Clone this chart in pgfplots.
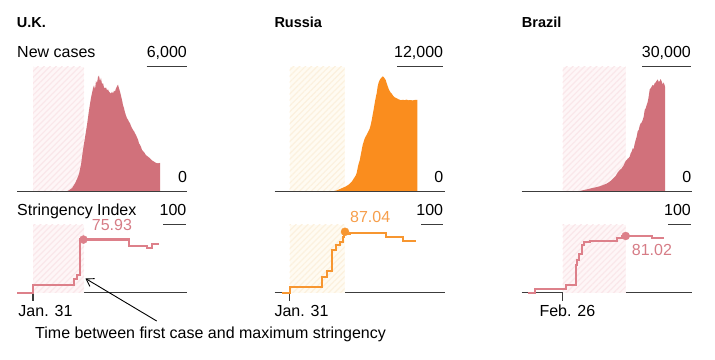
\documentclass[border=0pt]{standalone}
\usepackage{fontspec}
\setmainfont{Liberation Sans}
\usepackage{pgfplots}
\pgfplotsset{compat=1.18}
\usetikzlibrary{patterns.meta, arrows.meta}

\definecolor{ukfill}{RGB}{209,113,123}
\definecolor{ukline}{RGB}{221,128,138}
\definecolor{uklabel}{RGB}{214,124,134}
\definecolor{rufill}{RGB}{250,141,30}
\definecolor{ruline}{RGB}{247,150,48}
\definecolor{rulabel}{RGB}{246,158,75}
\definecolor{ukbg}{RGB}{254,246,247}
\definecolor{ukstripe}{RGB}{250,231,234}
\definecolor{rubg}{RGB}{255,251,242}
\definecolor{rustripe}{RGB}{252,241,222}
\definecolor{axisgray}{RGB}{60,60,60}

\newcommand\fs{\fontsize{16bp}{19bp}\selectfont}
\newcommand\fb{\fontsize{14.5bp}{17bp}\selectfont\bfseries}

\pgfplotsset{
  top/.style={width=170bp, height=125.2bp, scale only axis, xmin=16, xmax=186,
    ymin=0, axis x line*=bottom, axis y line=none, xtick=\empty, ytick=\empty,
    x axis line style={draw=axisgray, line width=1.3bp}, axis on top, clip=false},
  bot/.style={width=170bp, height=70bp, scale only axis, xmin=16, xmax=186,
    ymin=0, ymax=100, axis x line*=bottom, axis y line=none, ytick=\empty,
    xticklabels={}, major tick length=8bp, tick align=outside,
    x axis line style={draw=axisgray, line width=1.3bp},
    every tick/.style={draw=axisgray, line width=1.2bp}, clip=false},
}

\begin{document}
\begin{tikzpicture}
\useasboundingbox (0,0) rectangle (715bp,-360bp);

% ---------------- U.K. ----------------
\begin{axis}[top, ymax=6000, xmin=15, xmax=185, at={(17bp,-191.7bp)}, anchor=south west]
\addplot[draw=none, fill=ukbg] coordinates {(31,6000)(82,6000)} \closedcycle;
\addplot[draw=none, pattern={Lines[angle=45,distance=4.2bp,line width=1.2bp]}, pattern color=ukstripe] coordinates {(31,6000)(82,6000)} \closedcycle;
\addplot[draw=none, fill=ukfill] coordinates {
(62,0)(66,40)(70,170)(73,400)(75,600)(77,850)(79,1300)(81,2000)(83,2600)(85,3200)
(87,3900)(89,4500)(91,4950)(92,5100)(93,4900)(94,5300)(95,5200)(96,5500)(97,5560)
(98,5300)(99,5450)(100,5150)(101,5200)(102,5000)(103,4950)(104,5000)(105,4850)
(106,4900)(107,4800)(108,4750)(109,4700)(110,4800)(111,4700)(112,4850)(113,4800)
(114,4950)(115,5050)(116,5130)(117,4950)(118,4800)(119,4600)(120,4400)(121,4150)
(122,4000)(123,3800)(124,3650)(125,3520)(126,3450)(127,3350)(128,3280)(129,3150)
(130,3050)(131,2960)(132,2900)(133,2800)(134,2720)(135,2600)(136,2500)(137,2320)
(138,2250)(139,2150)(140,2000)(142,1900)(144,1750)(146,1680)(148,1600)(150,1500)
(152,1440)(154,1380)(156,1360)(158,1380)} \closedcycle;
\end{axis}

\begin{axis}[bot, xmin=15, xmax=185, xtick={31}, at={(17bp,-292.7bp)}, anchor=south west]
\addplot[draw=none, fill=ukbg] coordinates {(31,97)(82,97)} \closedcycle;
\addplot[draw=none, pattern={Lines[angle=45,distance=4.2bp,line width=1.2bp]}, pattern color=ukstripe] coordinates {(31,97)(82,97)} \closedcycle;
\addplot[const plot, ukline, line width=2.2bp] coordinates {
(15,0)(31,11.4)(72,19.1)(75,24.9)(78,75.93)(127,66.7)(145,64.3)(150,70)(157,70)};
\addplot[only marks, mark=*, mark size=4bp, ukline] coordinates {(81.5,75.93)};
\end{axis}

% ---------------- Russia ----------------
\begin{axis}[top, ymax=12000, at={(274.7bp,-191.7bp)}, anchor=south west]
\addplot[draw=none, fill=rubg] coordinates {(31,12000)(86,12000)} \closedcycle;
\addplot[draw=none, pattern={Lines[angle=45,distance=4.2bp,line width=1.2bp]}, pattern color=rustripe] coordinates {(31,12000)(86,12000)} \closedcycle;
\addplot[draw=none, fill=rufill] coordinates {
(72,0)(78,120)(83,330)(87,500)(90,680)(93,950)(95,1250)(97,1550)(98,1800)(99,2300)
(100,2700)(101,3000)(102,3500)(103,4000)(104,4500)(105,4800)(106,5100)(107,5300)
(108,5450)(109,5650)(110,5850)(111,6050)(112,6400)(113,6850)(114,7400)(115,7900)
(116,8500)(117,9000)(118,9450)(119,10100)(120,10500)(121,10700)(122,10850)
(123,10950)(124,11050)(125,11000)(126,10850)(127,10700)(128,10400)(129,10100)
(130,9850)(131,9650)(132,9500)(133,9400)(134,9250)(135,9150)(136,9050)(138,8950)
(140,8850)(142,8780)(144,8800)(146,8780)(148,8820)(150,8760)(152,8780)(154,8750)
(156,8790)(158.6,8790)} \closedcycle;
\end{axis}

\begin{axis}[bot, xtick={31}, at={(274.7bp,-292.7bp)}, anchor=south west]
\addplot[draw=none, fill=rubg] coordinates {(31,97)(86,97)} \closedcycle;
\addplot[draw=none, pattern={Lines[angle=45,distance=4.2bp,line width=1.2bp]}, pattern color=rustripe] coordinates {(31,97)(86,97)} \closedcycle;
\addplot[const plot, ruline, line width=2.2bp] coordinates {
(23,0)(31,8.6)(63,22.9)(68,31)(73,61)(77,68.1)(81.3,72)(84,80)(85.5,87.04)(88,83.4)
(91,85.7)(127,79.1)(144.6,74.3)(157.3,74.3)};
\addplot[only marks, mark=*, mark size=4bp, ruline] coordinates {(86.3,87.04)};
\end{axis}

% ---------------- Brazil ----------------
\begin{axis}[top, ymax=30000, at={(521.7bp,-191.7bp)}, anchor=south west]
\addplot[draw=none, fill=ukbg] coordinates {(57,30000)(120,30000)} \closedcycle;
\addplot[draw=none, pattern={Lines[angle=45,distance=4.2bp,line width=1.2bp]}, pattern color=ukstripe] coordinates {(57,30000)(120,30000)} \closedcycle;
\addplot[draw=none, fill=ukfill] coordinates {
(70,0)(74,150)(78,400)(82,600)(86,850)(90,1050)(94,1300)(98,1650)(101,1950)(104,2400)
(106,2800)(108,3300)(110,3800)(112,4600)(114,5200)(116,5600)(117,6000)(118,6300)
(119,6900)(120,7400)(121,7600)(122,7900)(123,8100)(124,8400)(125,9200)(126,9600)
(127,10400)(128,10300)(129,11500)(130,12400)(131,13200)(132,14500)(133,14800)
(134,15800)(135,16400)(136,16600)(137,17200)(138,18000)(139,19600)(140,20000)
(141,20800)(142,21500)(143,22800)(144,24500)(145,24800)(146,25200)(147,25600)
(148,25400)(149,26000)(150,26200)(151,26600)(152,26900)(153,26300)(154,26500)
(155,27000)(156,26400)(157,25700)(158,26200)(159.3,25200)} \closedcycle;
\end{axis}

\begin{axis}[bot, xtick={56.6}, at={(521.7bp,-292.7bp)}, anchor=south west]
\addplot[draw=none, fill=ukbg] coordinates {(57,97)(120,97)} \closedcycle;
\addplot[draw=none, pattern={Lines[angle=45,distance=4.2bp,line width=1.2bp]}, pattern color=ukstripe] coordinates {(57,97)(120,97)} \closedcycle;
\addplot[const plot, ukline, line width=2.2bp] coordinates {
(22.6,0)(29.3,4.9)(60.3,11)(70,39.6)(71.6,46.7)(73.3,54.9)(76,68.1)(78.3,72)
(84.3,74.3)(111,78.6)(116,81.02)(146,77.7)(158.6,77.7)};
\addplot[only marks, mark=*, mark size=4bp, ukline] coordinates {(120,81.02)};
\end{axis}

% ---------------- texts ----------------
\node[anchor=base west, inner sep=0] at (16.7bp,-27.3bp) {\fb U.K.};
\node[anchor=base west, inner sep=0] at (274.3bp,-27.3bp) {\fb Russia};
\node[anchor=base west, inner sep=0] at (521.7bp,-27.3bp) {\fb Brazil};

\node[anchor=base west, inner sep=0] at (17bp,-57.3bp) {\fs New cases};
\node[anchor=base east, inner sep=0] at (187bp,-57.3bp) {\fs 6,000};
\node[anchor=base east, inner sep=0] at (443.3bp,-57.3bp) {\fs 12,000};
\node[anchor=base east, inner sep=0] at (691bp,-57.3bp) {\fs 30,000};
\draw[axisgray, line width=1.3bp] (146.7bp,-66.7bp) -- (186.5bp,-66.7bp);
\draw[axisgray, line width=1.3bp] (397.3bp,-66.7bp) -- (443.3bp,-66.7bp);
\draw[axisgray, line width=1.3bp] (642.3bp,-66.7bp) -- (691bp,-66.7bp);

\node[anchor=base east, inner sep=0] at (187.3bp,-182.7bp) {\fs 0};
\node[anchor=base east, inner sep=0] at (443.5bp,-182.7bp) {\fs 0};
\node[anchor=base east, inner sep=0] at (691.5bp,-182.7bp) {\fs 0};

\node[anchor=base west, inner sep=0] at (17bp,-215.7bp) {\fs Stringency Index};
\node[anchor=base east, inner sep=0] at (186.5bp,-215.7bp) {\fs 100};
\node[anchor=base east, inner sep=0] at (443.3bp,-215.7bp) {\fs 100};
\node[anchor=base east, inner sep=0] at (691bp,-215.7bp) {\fs 100};
\draw[axisgray, line width=1.3bp] (163.3bp,-224.3bp) -- (186bp,-224.3bp);
\draw[axisgray, line width=1.3bp] (421bp,-224.3bp) -- (443.3bp,-224.3bp);
\draw[axisgray, line width=1.3bp] (668.3bp,-224.3bp) -- (691bp,-224.3bp);

\node[anchor=base west, inner sep=0, text=uklabel] at (91.7bp,-230.3bp) {\fs 75.93};
\node[anchor=base west, inner sep=0, text=rulabel] at (350bp,-222.3bp) {\fs 87.04};
\node[anchor=base west, inner sep=0, text=uklabel] at (631.7bp,-255bp) {\fs 81.02};

\node[anchor=base west, inner sep=0] at (18.3bp,-316.7bp) {\fs Jan. 31};
\node[anchor=base west, inner sep=0] at (274.3bp,-316.7bp) {\fs Jan. 31};
\node[anchor=base west, inner sep=0] at (539.3bp,-316.7bp) {\fs Feb. 26};

\draw[black, line width=0.9bp, -{Straight Barb[length=7bp,width=9bp]}] (156.7bp,-321bp) -- (85.5bp,-278.5bp);
\node[anchor=base west, inner sep=0] at (35bp,-338.3bp) {\fs Time between first case and maximum stringency};
\end{tikzpicture}
\end{document}
